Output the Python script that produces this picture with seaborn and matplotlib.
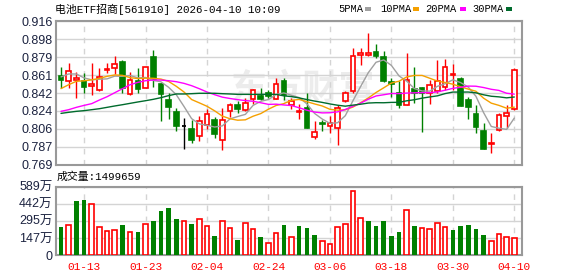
import numpy as np
import pandas as pd
import matplotlib
matplotlib.use("Agg")
import matplotlib.pyplot as plt
from matplotlib.patches import Rectangle
import seaborn as sns

# ---------------- data ----------------
dates = ["01-08", "01-09", "01-12", "01-13", "01-14", "01-15", "01-16", "01-19", "01-20", "01-21",
         "01-22", "01-23", "01-26", "01-27", "01-28", "01-29", "01-30", "02-02", "02-03", "02-04",
         "02-05", "02-06", "02-09", "02-10", "02-11", "02-12", "02-13", "02-24", "02-25", "02-26",
         "02-27", "03-02", "03-03", "03-04", "03-05", "03-06", "03-09", "03-10", "03-11", "03-12",
         "03-13", "03-16", "03-17", "03-18", "03-19", "03-20", "03-23", "03-24", "03-25", "03-26",
         "03-27", "03-30", "03-31", "04-01", "04-02", "04-03", "04-07", "04-08", "04-09", "04-10"]

opens = [0.860, 0.855, 0.856, 0.855, 0.850, 0.846, 0.866, 0.868, 0.874, 0.841,
         0.855, 0.848, 0.879, 0.852, 0.835, 0.823, 0.809, 0.806, 0.798, 0.810,
         0.815, 0.794, 0.824, 0.830, 0.825, 0.836, 0.839, 0.843, 0.836, 0.855,
         0.830, 0.823, 0.827, 0.797, 0.812, 0.809, 0.807, 0.834, 0.845, 0.881,
         0.881, 0.885, 0.879, 0.854, 0.843, 0.830, 0.847, 0.848, 0.842, 0.845,
         0.849, 0.861, 0.857, 0.835, 0.821, 0.804, 0.790, 0.805, 0.819, 0.826]
highs = [0.869, 0.873, 0.864, 0.863, 0.873, 0.868, 0.873, 0.880, 0.876, 0.864,
         0.868, 0.869, 0.887, 0.853, 0.842, 0.827, 0.817, 0.815, 0.819, 0.826,
         0.818, 0.827, 0.832, 0.834, 0.837, 0.847, 0.848, 0.846, 0.858, 0.858,
         0.837, 0.831, 0.842, 0.814, 0.815, 0.819, 0.830, 0.845, 0.889, 0.889,
         0.904, 0.893, 0.886, 0.858, 0.855, 0.883, 0.869, 0.849, 0.856, 0.876,
         0.877, 0.872, 0.859, 0.838, 0.830, 0.812, 0.802, 0.822, 0.830, 0.868]
lows = [0.848, 0.848, 0.837, 0.843, 0.840, 0.845, 0.863, 0.862, 0.842, 0.840,
        0.842, 0.848, 0.849, 0.814, 0.816, 0.804, 0.785, 0.791, 0.793, 0.806,
        0.796, 0.784, 0.818, 0.822, 0.824, 0.831, 0.835, 0.837, 0.836, 0.835,
        0.826, 0.816, 0.807, 0.795, 0.804, 0.802, 0.789, 0.833, 0.843, 0.871,
        0.880, 0.878, 0.854, 0.838, 0.827, 0.830, 0.832, 0.803, 0.831, 0.842,
        0.846, 0.846, 0.829, 0.816, 0.802, 0.785, 0.781, 0.804, 0.807, 0.825]
closes = [0.856, 0.865, 0.858, 0.849, 0.852, 0.859, 0.867, 0.872, 0.848, 0.856,
          0.847, 0.869, 0.857, 0.841, 0.828, 0.809, 0.809, 0.794, 0.814, 0.821,
          0.800, 0.815, 0.830, 0.826, 0.832, 0.846, 0.836, 0.839, 0.852, 0.840,
          0.834, 0.824, 0.807, 0.803, 0.811, 0.812, 0.827, 0.843, 0.880, 0.884,
          0.883, 0.880, 0.855, 0.852, 0.830, 0.856, 0.842, 0.843, 0.851, 0.855,
          0.869, 0.862, 0.829, 0.828, 0.808, 0.785, 0.791, 0.820, 0.822, 0.866]

# volume in 万 (10k shares)
volumes = [244, 259, 469, 474, 440, 239, 207, 216, 259, 198,
           198, 267, 296, 382, 405, 311, 296, 267, 311, 250,
           164, 293, 230, 129, 273, 221, 155, 101, 187, 259,
           155, 250, 233, 173, 121, 92, 239, 267, 552, 316,
           293, 250, 293, 164, 198, 388, 250, 233, 224, 276,
           242, 216, 250, 259, 224, 173, 121, 178, 155, 149.9659]
vol_dir = list("grggrrrrgrgrggggrgrrgrrgrrgrrgrgggrrrrrrgggggrgrrrrgggggrrrr")

# moving-average values before enough history is visible
ma5_head = [0.859, 0.862, 0.862, 0.858]
ma10_head = [0.847, 0.851, 0.8545, 0.855, 0.856, 0.8575, 0.8596, 0.861, 0.8606]
ma20_head = [0.8237, 0.8254, 0.8278, 0.8298, 0.8316, 0.8353, 0.8387, 0.8428, 0.8469, 0.851,
             0.8534, 0.8551, 0.8558, 0.8558, 0.8551, 0.8541, 0.8524, 0.850, 0.8469]
ma30_head = [0.8216, 0.8227, 0.8237, 0.8244, 0.8254, 0.8264, 0.8278, 0.8292, 0.8305, 0.8319,
             0.8333, 0.8346, 0.836, 0.8377, 0.8398, 0.8415, 0.8415, 0.8418, 0.8422, 0.8422,
             0.8422, 0.8418, 0.8415, 0.8411, 0.8411, 0.8411, 0.8411, 0.8411, 0.8411]

price_ticks = ["0.769", "0.787", "0.806", "0.824", "0.842", "0.861", "0.879", "0.898", "0.916"]
vol_ticks = ["0", "147万", "295万", "442万", "589万"]
title = "电池ETF招商[561910] 2026-04-10 10:09"
vol_title = "成交量:1499659"
ma_names = ["5PMA", "10PMA", "20PMA", "30PMA"]
ma_colors = ["#a0a0a0", "#f5a000", "#ff00ff", "#006b2d"]

# ---------------- figure ----------------
sns.set_theme(style="white")
plt.rcParams["font.family"] = ["Liberation Sans", "Noto Sans CJK SC", "DejaVu Sans"]
MONO = ["Liberation Mono", "Noto Sans CJK SC", "DejaVu Sans"]

W, H = 578, 276
fig = plt.figure(figsize=(W / 100, H / 100), dpi=100)
fig.patch.set_facecolor("white")
L, R = 56, 522
ax = fig.add_axes([L / W, 1 - 164.7 / H, (R - L) / W, (164.7 - 21.3) / H])
axv = fig.add_axes([L / W, 1 - 255 / H, (R - L) / W, (255 - 186.7) / H])

n = len(closes)
idx = np.arange(n)
RED, GREEN = "#ff0000", "#008000"
BW = 0.6

# watermark
ax.text(0.53, 0.53, "东方财富", transform=ax.transAxes, ha="center", va="center",
        fontsize=26, fontweight="bold", color="#ececec", zorder=0.5,
        family=["Noto Sans CJK SC"])

# candles
for i in range(n):
    o, h, l, c = opens[i], highs[i], lows[i], closes[i]
    col = RED if c > o else (GREEN if c < o else "#000000")
    ax.vlines(i, l, h, color=col, lw=1.0, zorder=3)
    if c == o:
        ax.hlines(c, i - BW / 2, i + BW / 2, color=col, lw=1.3, zorder=4)
    else:
        fc = "white" if c > o else col
        ax.add_patch(Rectangle((i - BW / 2, min(o, c)), BW, abs(c - o),
                               facecolor=fc, edgecolor=col, lw=1.2, zorder=4))

# moving averages
cs = pd.Series(closes)
mas = []
for w, head in zip([5, 10, 20, 30], [ma5_head, ma10_head, ma20_head, ma30_head]):
    m = cs.rolling(w).mean().to_numpy()
    m[:len(head)] = head
    mas.append(m)
df = pd.concat([pd.DataFrame({"idx": idx, "value": m, "ma": name})
                for m, name in zip(mas, ma_names)], ignore_index=True)
sns.lineplot(data=df, x="idx", y="value", hue="ma", palette=dict(zip(ma_names, ma_colors)),
             hue_order=ma_names, legend=False, ax=ax, lw=1.0, zorder=5)

# volume bars
vols = np.array(volumes, dtype=float)
up = np.array([d == "r" for d in vol_dir])
axv.bar(idx[up], vols[up], width=BW, facecolor="white", edgecolor=RED, lw=1.2, zorder=3)
axv.bar(idx[~up], vols[~up], width=BW, color=GREEN, lw=0, zorder=3)

# axes styling
tick_idx = list(range(3, n, 8))
for a in (ax, axv):
    a.set_xlim(-0.65, 60.0)
    a.set_facecolor("white")
    a.set_xticks(tick_idx)
    a.set_xlabel("")
    a.set_ylabel("")
    a.yaxis.grid(True, color="#d4d4d4", lw=1.0, zorder=0)
    a.xaxis.grid(True, color="#d4d4d4", lw=1.0, ls=(0, (4, 4)), zorder=0)
    a.set_axisbelow(True)
    for s in a.spines.values():
        s.set_visible(True)
        s.set_color("#999999")
        s.set_linewidth(1.5)
    a.tick_params(axis="both", length=0)

ax.set_ylim(0.769, 0.916)
ax.set_yticks(np.linspace(0.769, 0.916, 9))
ax.set_yticklabels(price_ticks)
ax.set_xticklabels([])
ax.tick_params(axis="y", pad=2.5, labelsize=9, labelcolor="#1c2340")

axv.set_ylim(0, 589)
axv.set_yticks(np.linspace(0, 589, 5))
axv.set_yticklabels(vol_ticks)
axv.tick_params(axis="y", pad=2.5, labelsize=9, labelcolor="#1c2340")
axv.set_xticklabels([dates[i] for i in tick_idx])
axv.tick_params(axis="x", pad=5, labelsize=8, labelcolor=RED)
for lbl in axv.get_xticklabels():
    lbl.set_fontfamily(MONO)

# titles
fig.text(55 / W, 1 - 9 / H, title, ha="left", va="center", fontsize=7.8, color="#000000",
         family=MONO)
fig.text(57 / W, 1 - 177 / H, vol_title, ha="left", va="center", fontsize=7.8, color="#000000",
         family=MONO)

# legend
leg_x = [338, 380, 425, 472]
sq_x = [365, 413, 460, 506]
for name, col, tx, sx in zip(ma_names, ma_colors, leg_x, sq_x):
    fig.text(tx / W, 1 - 9 / H, name, ha="left", va="center", fontsize=7.5,
             color="#000000", family=MONO)
    fig.add_artist(Rectangle((sx / W, 1 - 11 / H), 6 / W, 4 / H, transform=fig.transFigure,
                             facecolor=col, edgecolor="none"))

fig.savefig("out.png", dpi=100, facecolor="white")
